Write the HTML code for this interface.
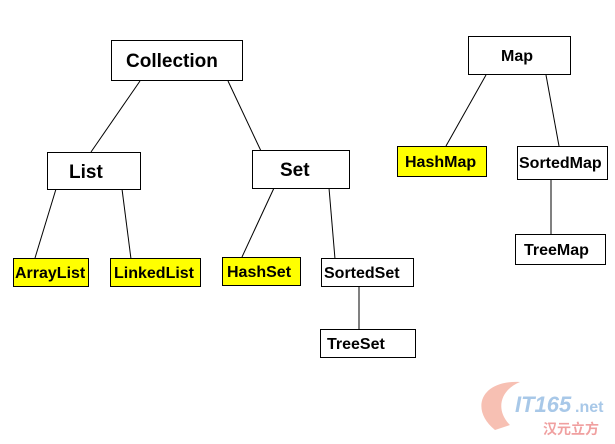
<!DOCTYPE html>
<html><head><style>
body{margin:0;width:615px;height:444px;background:#fff;overflow:hidden;position:relative;font-family:"Liberation Sans",sans-serif;font-weight:bold}
.b{position:absolute;border:1px solid #000;box-sizing:border-box;background:#fff;font-size:16px;line-height:1;display:flex;align-items:center;padding-top:2px}
.y{background:#ffff00}
svg{position:absolute;left:0;top:0}
</style></head><body>
<svg width="615" height="444">
<g stroke="#000" stroke-width="1">
<line x1="140" y1="81" x2="91" y2="152"/>
<line x1="228" y1="81" x2="261" y2="151"/>
<line x1="56" y1="189" x2="35" y2="258"/>
<line x1="122" y1="189" x2="131" y2="259"/>
<line x1="274" y1="188" x2="242" y2="257"/>
<line x1="329" y1="188" x2="335" y2="259"/>
<line x1="359" y1="286" x2="359" y2="329"/>
<line x1="486" y1="75" x2="446" y2="146"/>
<line x1="546" y1="75" x2="559" y2="146"/>
<line x1="551" y1="178" x2="551" y2="234"/>
</g>
<path d="M495 430 C470 410 480 380 520 382 C500 390 495 410 510 425 Z" fill="#f5b0a0" opacity="0.8"/>
<text x="515" y="412" font-family="Liberation Sans" font-style="italic" font-weight="bold" font-size="22" fill="#a8c8e8">IT165</text>
<text x="575" y="412" font-family="Liberation Sans" font-size="16" fill="#a8c8e8">.net</text>
<text x="543" y="434" font-family="Noto Sans CJK SC,sans-serif" font-size="14" fill="#f0a0a0">汉元立方</text>
</svg>
<div class="b" style="left:111px;top:40px;width:132px;height:41px;font-size:19px;padding-left:14px">Collection</div>
<div class="b" style="left:47px;top:152px;width:94px;height:38px;font-size:19px;padding-left:21px">List</div>
<div class="b" style="left:252px;top:150px;width:98px;height:39px;font-size:19px;padding-left:27px">Set</div>
<div class="b y" style="left:13px;top:258px;width:76px;height:29px;padding-left:1px">ArrayList</div>
<div class="b y" style="left:110px;top:258px;width:91px;height:29px;padding-left:3px">LinkedList</div>
<div class="b y" style="left:222px;top:257px;width:79px;height:29px;padding-left:4px">HashSet</div>
<div class="b" style="left:321px;top:258px;width:93px;height:29px;padding-left:2px">SortedSet</div>
<div class="b" style="left:320px;top:329px;width:96px;height:29px;padding-left:6px">TreeSet</div>
<div class="b" style="left:468px;top:36px;width:103px;height:39px;padding-left:32px">Map</div>
<div class="b y" style="left:397px;top:146px;width:90px;height:31px;padding-left:7px">HashMap</div>
<div class="b" style="left:517px;top:146px;width:91px;height:34px;padding-left:1px">SortedMap</div>
<div class="b" style="left:515px;top:234px;width:91px;height:31px;padding-left:8px">TreeMap</div>
</body></html>
